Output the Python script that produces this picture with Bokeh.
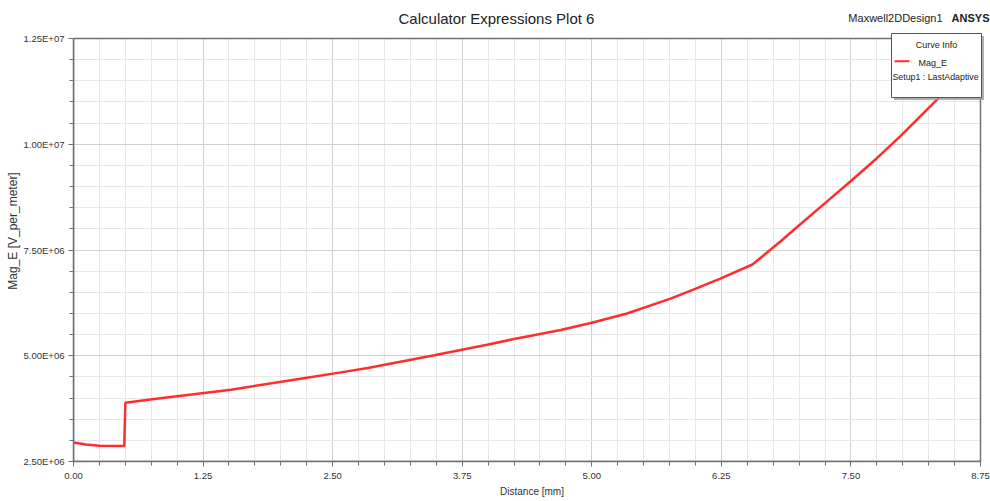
from bokeh.plotting import figure
from bokeh.models import Range1d, FixedTicker, Label, BoxAnnotation
from bokeh.embed import file_html
from bokeh.resources import INLINE

# ---- data ----
distance_mm = [0.00, 0.12, 0.25, 0.49, 0.50, 0.78, 1.52, 2.19, 2.58, 2.84, 3.48, 3.99,
               4.25, 4.70, 5.00, 5.34, 5.76, 5.98, 6.24, 6.55, 6.82, 6.95, 7.27, 7.50,
               7.75, 7.98, 8.35, 8.75]
mag_e = [2.95e6, 2.90e6, 2.87e6, 2.865e6, 3.89e6, 3.975e6, 4.197e6, 4.458e6, 4.607e6,
         4.71e6, 5.01e6, 5.26e6, 5.395e6, 5.61e6, 5.78e6, 6.00e6, 6.35e6, 6.565e6,
         6.825e6, 7.157e6, 7.70e6, 7.98e6, 8.65e6, 9.13e6, 9.67e6, 10.20e6, 11.10e6,
         12.10e6]

x_ticks = [0.0, 1.25, 2.5, 3.75, 5.0, 6.25, 7.5, 8.75]
x_tick_labels = ["0.00", "1.25", "2.50", "3.75", "5.00", "6.25", "7.50", "8.75"]
x_minor = [i * 0.25 for i in range(36)]
y_ticks = [2.5e6, 5.0e6, 7.5e6, 10.0e6, 12.5e6]
y_tick_labels = ["2.50E+06", "5.00E+06", "7.50E+06", "1.00E+07", "1.25E+07"]
y_minor = [2.5e6 + i * 0.5e6 for i in range(21)]

title_text = "Calculator Expressions Plot 6"
design_name = "Maxwell2DDesign1"
brand = "ANSYS"
series_name = "Mag_E"
setup_name = "Setup1 : LastAdaptive"

FONT = "Liberation Sans"
GRAY = "#707070"
TXT = "#333333"
RED = "#ff2d2d"

# ---- layout constants (pixels) ----
FRAME_W, FRAME_H = 917, 461      # frame incl. header strip and right gutter
PLOT_W, PLOT_H = 907, 423        # the drawn plot box inside the frame
HEAD_H = FRAME_H - PLOT_H
x0, x1 = x_ticks[0], x_ticks[-1]
y0, y1 = y_ticks[0], y_ticks[-1]
x_end = x1 + (x1 - x0) / PLOT_W * (FRAME_W - PLOT_W)
y_top = y1 + (y1 - y0) / PLOT_H * HEAD_H

p = figure(frame_width=FRAME_W, frame_height=FRAME_H, output_backend="svg",
           toolbar_location=None,
           x_range=Range1d(x0, x_end), y_range=Range1d(y0, y_top),
           min_border_left=73, min_border_right=0, min_border_top=0,
           min_border_bottom=40)
p.background_fill_color = "white"
p.border_fill_color = "white"
p.outline_line_color = None

p.xaxis.ticker = FixedTicker(ticks=x_ticks, minor_ticks=x_minor)
p.yaxis.ticker = FixedTicker(ticks=y_ticks, minor_ticks=y_minor)
p.xaxis.major_label_overrides = dict(zip(x_ticks, x_tick_labels))
p.yaxis.major_label_overrides = dict(zip(y_ticks, y_tick_labels))
p.xaxis.bounds = (x0, x1)
p.yaxis.bounds = (y0, y1)

for ax in (p.xaxis, p.yaxis):
    ax.axis_line_color = GRAY
    ax.axis_line_width = 1.5
    ax.major_tick_line_color = GRAY
    ax.minor_tick_line_color = GRAY
    ax.major_tick_out = 5
    ax.major_tick_in = 0
    ax.minor_tick_out = 4
    ax.minor_tick_in = 0
    ax.major_label_text_font = FONT
    ax.major_label_text_font_size = "9.5px"
    ax.major_label_text_color = TXT
    ax.axis_label_text_font = FONT
    ax.axis_label_text_font_style = "normal"
    ax.axis_label_text_color = TXT

p.xaxis.major_label_standoff = 6
p.yaxis.major_label_standoff = 4
p.xaxis.axis_label = "Distance [mm]"
p.xaxis.axis_label_text_font_size = "10px"
p.xaxis.axis_label_standoff = 4
p.yaxis.axis_label = "Mag_E [V_per_meter]"
p.yaxis.axis_label_text_font_size = "12px"
p.yaxis.axis_label_standoff = 1

for g in (p.xgrid, p.ygrid):
    g.grid_line_color = "#d0d0d0"
    g.grid_line_width = 1
    g.minor_grid_line_color = "#e8e8e8"
    g.minor_grid_line_width = 1

p.line(distance_mm, mag_e, line_color=RED, line_width=2.5)

# white cover over the header strip and right gutter, then the plot box outline
p.add_layout(BoxAnnotation(left=x0, right=x_end, bottom=y1, top=y_top,
                           fill_color="white", fill_alpha=1, line_alpha=0))
p.add_layout(BoxAnnotation(left=x1, right=x_end, bottom=y0, top=y_top,
                           fill_color="white", fill_alpha=1, line_alpha=0))
p.add_layout(BoxAnnotation(left=x0, right=x1, bottom=y0, top=y1,
                           fill_alpha=0, line_color=GRAY, line_alpha=1,
                           line_width=1.5))

# ---- header texts (screen units: from frame left / frame bottom) ----
p.add_layout(Label(x=423, y=443, x_units="screen", y_units="screen",
                   text=title_text, text_align="center", text_baseline="middle",
                   text_font=FONT, text_font_size="15px", text_color="#222222"))
p.add_layout(Label(x=869, y=444, x_units="screen", y_units="screen",
                   text=design_name, text_align="right", text_baseline="middle",
                   text_font=FONT, text_font_size="11px", text_color="#222222"))
p.add_layout(Label(x=916, y=444, x_units="screen", y_units="screen",
                   text=brand, text_align="right", text_baseline="middle",
                   text_font=FONT, text_font_size="11px", text_font_style="bold",
                   text_color="#222222"))

# ---- curve info box ----
def sbox(l, r, t, b, **kw):
    return BoxAnnotation(left=l, right=r, top=t, bottom=b,
                         left_units="screen", right_units="screen",
                         top_units="screen", bottom_units="screen", **kw)

p.add_layout(sbox(820.5, 910.5, 425.5, 361.5, fill_color="#9a9a9a", fill_alpha=0.8,
                  line_alpha=0))
p.add_layout(sbox(818, 908, 428, 364, fill_color="white", fill_alpha=1,
                  line_color="#555555", line_alpha=1, line_width=1))
p.add_layout(Label(x=863, y=417, x_units="screen", y_units="screen",
                   text="Curve Info", text_align="center", text_baseline="middle",
                   text_font=FONT, text_font_size="9px", text_color="#222222"))
p.add_layout(sbox(821, 836, 401.3, 399.3, fill_color=RED, fill_alpha=1, line_alpha=0))
p.add_layout(Label(x=845, y=399, x_units="screen", y_units="screen",
                   text=series_name, text_align="left", text_baseline="middle",
                   text_font=FONT, text_font_size="9px", text_color="#222222"))
p.add_layout(Label(x=819, y=384.3, x_units="screen", y_units="screen",
                   text=setup_name, text_align="left", text_baseline="middle",
                   text_font=FONT, text_font_size="8.8px", text_color="#222222"))

open("out.html", "w").write(file_html(p, INLINE))
